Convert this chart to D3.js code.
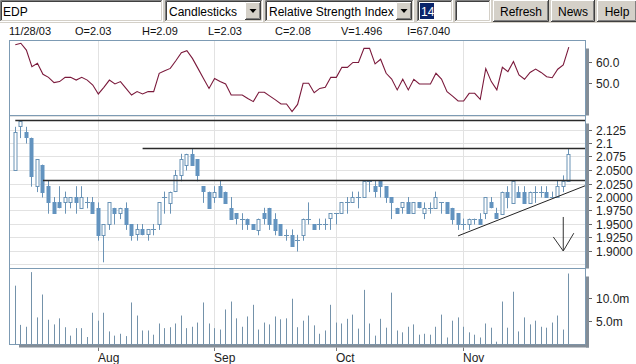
<!DOCTYPE html>
<html><head><meta charset="utf-8">
<script src="https://cdn.jsdelivr.net/npm/d3@7/dist/d3.min.js"></script>
<style>
body{margin:0;background:#fff;overflow:hidden}
svg{display:block}
text{font-family:"Liberation Sans",Arial,sans-serif}
</style>
</head><body>
<svg id="chart" width="636" height="364"></svg>
<script>
// ---------------- DATA ----------------
const symbol = "EDP";
const chartType = "Candlesticks";
const indicator = "Relative Strength Index";
const period = "14";
const buttons = ["Refresh","News","Help"];
const infoLabels = ["11/28/03","O=2.03","H=2.09","L=2.03","C=2.08","V=1.496","I=67.040"];

const startDate = "2003-07-11", endDate = "2003-11-28";

const opens  = [2.05,2.13,2.12,2.11,2.02,2.06,2.02,1.99,1.99,1.99,1.99,2.00,1.98,1.99,1.99,1.98,1.93,1.95,1.98,1.97,
                1.98,1.95,1.93,1.94,1.93,1.94,1.95,2.00,1.99,2.01,2.04,2.06,2.08,2.07,2.02,2.01,2.00,2.02,2.01,1.98,
                1.97,1.96,1.96,1.95,1.94,1.97,1.98,1.96,1.95,1.93,1.93,1.92,1.93,1.96,1.95,1.95,1.95,1.96,1.97,1.97,
                1.99,1.99,2.00,2.00,2.03,2.02,2.03,2.02,2.00,1.98,1.98,1.99,1.97,1.99,1.97,1.98,1.98,1.99,1.99,1.98,
                1.97,1.95,1.95,1.96,1.96,1.97,1.99,1.97,1.97,2.01,1.99,2.01,2.01,1.99,2.01,2.01,2.01,2.00,2.00,2.02,2.03];
const highs  = [2.13,2.14,2.13,2.11,2.07,2.06,2.03,2.00,2.02,2.01,2.00,2.02,2.02,2.00,2.00,1.99,1.95,1.99,1.98,1.98,
                1.99,1.95,1.95,1.95,1.94,1.95,1.99,2.01,2.01,2.05,2.08,2.08,2.09,2.07,2.02,2.01,2.02,2.03,2.01,2.00,
                1.97,1.97,1.96,1.95,1.96,1.98,1.98,1.97,1.95,1.94,1.94,1.93,1.96,1.99,1.95,1.96,1.96,1.97,1.97,1.99,
                2.00,2.01,2.01,2.03,2.03,2.03,2.03,2.02,2.00,1.98,1.99,2.00,1.99,1.99,1.99,1.99,2.01,1.99,1.99,1.98,
                1.97,1.96,1.96,1.96,1.97,2.00,2.00,1.98,2.01,2.02,2.03,2.02,2.02,2.01,2.02,2.02,2.02,2.01,2.03,2.04,2.09];
const lows   = [2.05,2.11,2.10,2.02,2.01,2.00,1.97,1.97,1.98,1.97,1.98,1.97,1.98,1.98,1.97,1.92,1.88,1.94,1.95,1.96,
                1.94,1.92,1.92,1.93,1.92,1.93,1.94,1.97,1.97,2.01,2.03,2.05,2.06,2.03,1.99,1.98,1.99,2.00,1.99,1.96,
                1.95,1.94,1.94,1.94,1.93,1.95,1.94,1.93,1.93,1.92,1.91,1.90,1.92,1.95,1.94,1.94,1.94,1.94,1.95,1.97,
                1.97,1.99,1.98,2.00,2.01,2.00,2.00,1.99,1.96,1.97,1.97,1.97,1.97,1.98,1.96,1.97,1.98,1.97,1.97,1.95,
                1.94,1.94,1.94,1.95,1.95,1.96,1.98,1.96,1.97,1.98,1.99,2.00,1.99,1.99,1.99,2.00,2.00,2.00,2.00,2.01,2.03];
const closes = [2.12,2.14,2.11,2.04,2.07,2.01,1.99,1.97,1.98,2.00,2.00,1.99,2.00,1.99,1.97,1.93,1.95,1.99,1.97,1.98,
                1.95,1.93,1.94,1.93,1.94,1.94,1.99,2.00,2.01,2.04,2.07,2.08,2.06,2.04,2.01,1.98,2.01,2.00,1.99,1.96,
                1.96,1.96,1.95,1.94,1.96,1.96,1.95,1.94,1.93,1.93,1.91,1.92,1.96,1.96,1.94,1.95,1.95,1.97,1.97,1.99,
                1.99,2.00,2.00,2.03,2.03,2.01,2.02,2.00,1.99,1.97,1.99,1.97,1.99,1.98,1.98,1.98,2.00,1.99,1.97,1.96,
                1.95,1.95,1.96,1.96,1.95,2.00,1.98,1.96,2.01,2.00,2.03,2.00,1.99,2.01,2.01,2.01,2.00,2.00,2.02,2.03,2.08];
const rsi    = [68.1,68.8,65.6,57.8,59.4,54.2,52.8,50.3,50.8,52.8,52.8,51.5,52.8,51.5,49.2,45.0,48.1,51.5,49.7,50.8,
                47.6,44.5,46.1,45.0,46.1,46.1,54.7,55.9,57.0,60.6,64.4,65.3,61.7,57.0,52.3,47.6,52.3,50.8,49.7,44.5,
                44.5,44.5,42.9,41.4,45.8,45.8,44.0,42.2,40.3,40.3,36.7,40.1,50.0,50.0,45.6,47.6,48.1,52.8,52.8,57.5,
                57.5,59.8,59.8,66.4,66.4,59.1,61.3,54.7,52.0,46.9,51.9,46.9,51.9,49.7,49.7,49.7,54.7,52.0,46.1,44.0,
                41.7,41.7,45.3,45.3,42.5,56.9,50.8,46.9,57.5,55.5,60.2,53.9,51.9,55.1,56.7,55.1,53.1,52.6,56.6,58.6,67.0];
const volume = [12.6,4.2,3.8,15.5,5.8,10.7,5.3,4.3,5.6,3.7,1.9,3.5,3.5,1.6,6.8,5.1,6.8,2.8,1.9,2.3,
                1.8,9.0,6.2,3.0,3.0,2.1,4.5,3.5,3.7,4.5,6.2,3.5,3.8,4.7,9.0,4.5,3.5,3.2,7.5,9.2,
                5.6,3.8,6.0,8.5,3.2,4.7,4.3,6.0,5.4,5.6,9.8,3.7,5.1,6.2,4.1,2.3,3.0,8.5,4.7,4.5,
                5.5,6.4,3.4,11.7,4.5,1.9,5.5,3.6,11.1,3.0,2.6,3.8,4.3,2.1,2.3,2.1,3.8,6.4,1.5,5.1,
                5.8,3.8,2.6,2.1,1.5,4.5,3.6,0.6,9.2,3.6,11.3,2.8,5.8,4.3,5.1,3.8,3.6,4.7,6.2,3.2,15.2];

const priceTicks = [2.125,2.1,2.075,2.05,2.025,2.0,1.975,1.95,1.925,1.9];
const priceTickLabels = ["2.125","2.1","2.075","2.0500","2.0250","2.0000","1.9750","1.9500","1.9250","1.9000"];
const priceGrid = [2.15,2.125,2.1,2.075,2.05,2.025,2.0,1.975,1.95,1.925,1.9,1.875];
const rsiTicks = [60,50], rsiTickLabels = ["60.0","50.0"];
const volTicks = [10,5], volTickLabels = ["10.0m","5.0m"];
const monthNames = ["Jan","Feb","Mar","Apr","May","Jun","Jul","Aug","Sep","Oct","Nov","Dec"];

// drawn annotations (index, price)
const levelLines = [{from:0,price:2.142},{from:23,price:2.090},{from:5,price:2.031}];
const trendLine = [[80,1.928],[103,2.021]];
const arrowShaft = [[99,1.963],[99,1.900]];
const arrowHead = [[97.2,1.926],[99,1.900],[100.9,1.933]];

// trading days (weekdays) as categories
const dates = [];
for (let d = new Date(startDate+"T00:00:00Z"); d <= new Date(endDate+"T00:00:00Z"); d = new Date(d.getTime()+864e5)) {
  const wd = d.getUTCDay(); if (wd>0 && wd<6) dates.push(new Date(d));
}

// ---------------- LAYOUT ----------------
const L = 9.5, R = 585.5;
const P = {
  rsi:   {top:40.5,  bottom:115.5},
  price: {top:115.5, bottom:268.5},
  vol:   {top:268.5, bottom:344.5}
};
const candleCol = "#6393bf", candleStroke = "#6a93b6", volCol = "#7492aa";
const borderCol = "#7d9bb4", shadowCol = "#838d97", gridCol = "#e2e2e2";

const svg = d3.select("#chart");
const x = d3.scaleLinear().domain([0, dates.length-1]).range([15.3, 568.8]);
const yP = d3.scaleLinear().domain([1.9, 2.125]).range([251, 129.5]);
const yR = d3.scaleLinear().domain([50, 60]).range([83.3, 62]);
const yV = d3.scaleLinear().domain([0, 10]).range([344.5, 297.8]);
const px = i => Math.floor(x(i)) + 0.5;

// ---------------- TOOLBAR ----------------
const tb = svg.append("g");
tb.append("rect").attr("x",0).attr("y",0).attr("width",636).attr("height",23).attr("fill","#d4d0c8");
function sunken(x0,y0,w,h){
  tb.append("rect").attr("x",x0).attr("y",y0).attr("width",w).attr("height",h).attr("fill","#fff");
  tb.append("path").attr("d",`M${x0+.5},${y0+h}V${y0+.5}H${x0+w}`).attr("stroke","#808080").attr("fill","none");
  tb.append("path").attr("d",`M${x0+1.5},${y0+h-1}V${y0+1.5}H${x0+w-1}`).attr("stroke","#404040").attr("fill","none");
  tb.append("path").attr("d",`M${x0},${y0+h-.5}H${x0+w-.5}V${y0}`).attr("stroke","#fff").attr("fill","none");
  tb.append("path").attr("d",`M${x0+1},${y0+h-1.5}H${x0+w-1.5}V${y0+1}`).attr("stroke","#d4d0c8").attr("fill","none");
}
function raised(x0,y0,w,h){
  tb.append("rect").attr("x",x0).attr("y",y0).attr("width",w).attr("height",h).attr("fill","#d4d0c8");
  tb.append("path").attr("d",`M${x0+.5},${y0+h-1}V${y0+.5}H${x0+w-1}`).attr("stroke","#fff").attr("fill","none");
  tb.append("path").attr("d",`M${x0},${y0+h-.5}H${x0+w-.5}V${y0}`).attr("stroke","#404040").attr("fill","none");
  tb.append("path").attr("d",`M${x0+1},${y0+h-1.5}H${x0+w-1.5}V${y0+1}`).attr("stroke","#808080").attr("fill","none");
}
function label(t,xx,yy,opt={}){
  return tb.append("text").attr("x",xx).attr("y",yy).attr("font-size",opt.size||12)
    .attr("fill",opt.fill||"#000").attr("text-anchor",opt.anchor||"start").text(t);
}
sunken(0,0,163,22); label(symbol,3,15.5);
function select(x0,w,t){
  sunken(x0,0,w,22);
  label(t,x0+4,15.5);
  raised(x0+w-18,2,16,18);
  const cx = x0+w-10;
  tb.append("path").attr("d",`M${cx-3.5},9H${cx+3.5}L${cx},13Z`).attr("fill","#000");
}
select(165,98,chartType);
select(265,149,indicator);
sunken(417,0,36,22);
tb.append("rect").attr("x",420).attr("y",3).attr("width",14).attr("height",16).attr("fill","#0a246a");
label(period,421,15.5,{fill:"#fff"});
sunken(455,0,36,22);
const btnX = [493,551,597], btnW = [56,44,40];
buttons.forEach((b,i)=>{ raised(btnX[i],0,btnW[i],22); label(b,btnX[i]+btnW[i]/2,15.5,{anchor:"middle"}); });

// info line
const infoX = [9,75,142,208,275,341,407];
infoLabels.forEach((t,i)=> svg.append("text").attr("x",infoX[i]).attr("y",35).attr("font-size",11)
  .attr("fill","#111").text(t));

// ---------------- PANELS ----------------
const defs = svg.append("defs");
Object.entries(P).forEach(([k,p])=>{
  defs.append("clipPath").attr("id","clip-"+k).append("rect")
    .attr("x",L).attr("y",p.top).attr("width",R-L).attr("height",p.bottom-p.top);
});

// month gridlines
const monthIdx = [];
dates.forEach((d,i)=>{ if(i>0 && d.getUTCMonth()!==dates[i-1].getUTCMonth()) monthIdx.push(i); });
svg.append("g").selectAll("line").data(monthIdx).join("line")
  .attr("x1",d=>px(d)).attr("x2",d=>px(d)).attr("y1",P.rsi.top).attr("y2",P.vol.bottom)
  .attr("stroke",gridCol);

// price horizontal grid
svg.append("g").attr("clip-path","url(#clip-price)").selectAll("line").data(priceGrid).join("line")
  .attr("x1",L).attr("x2",R).attr("y1",d=>Math.round(yP(d))+.5).attr("y2",d=>Math.round(yP(d))+.5)
  .attr("stroke",gridCol);

// RSI line
svg.append("path").attr("clip-path","url(#clip-rsi)").datum(rsi)
  .attr("d", d3.line().x((d,i)=>x(i)).y(d=>yR(d)))
  .attr("fill","none").attr("stroke","#7b1a3c").attr("stroke-width",1.1);

// candles
const cg = svg.append("g").attr("clip-path","url(#clip-price)");
const idx = d3.range(dates.length);
cg.selectAll("line.wick").data(idx).join("line").attr("class","wick")
  .attr("x1",i=>px(i)).attr("x2",i=>px(i))
  .attr("y1",i=>yP(highs[i])).attr("y2",i=>yP(lows[i])+0.5)
  .attr("stroke",candleStroke);
cg.selectAll("rect.body").data(idx.filter(i=>opens[i]!==closes[i])).join("rect").attr("class","body")
  .attr("x",i=>px(i)-1.5).attr("width",3)
  .attr("y",i=>Math.round(yP(Math.max(opens[i],closes[i])))+.5)
  .attr("height",i=>Math.max(1,Math.round(Math.abs(yP(opens[i])-yP(closes[i])))))
  .attr("fill",i=>closes[i]>opens[i]?"#fff":candleCol)
  .attr("stroke",i=>closes[i]>opens[i]?candleStroke:candleCol);
cg.selectAll("line.doji").data(idx.filter(i=>opens[i]===closes[i])).join("line").attr("class","doji")
  .attr("x1",i=>px(i)-2.5).attr("x2",i=>px(i)+2.5)
  .attr("y1",i=>Math.round(yP(opens[i]))+.5).attr("y2",i=>Math.round(yP(opens[i]))+.5)
  .attr("stroke",candleStroke);

// annotations
const ag = svg.append("g").attr("clip-path","url(#clip-price)");
ag.selectAll("line.lvl").data(levelLines).join("line").attr("class","lvl")
  .attr("x1",d=>x(d.from)).attr("x2",R).attr("y1",d=>Math.round(yP(d.price))+.5).attr("y2",d=>Math.round(yP(d.price))+.5)
  .attr("stroke","#2a2a2a").attr("stroke-width",1.3);
const ln = d3.line().x(d=>x(d[0])).y(d=>yP(d[1]));
ag.append("path").attr("d",ln(trendLine)).attr("stroke","#222").attr("fill","none");
ag.append("path").attr("d",ln(arrowShaft)).attr("stroke","#333").attr("fill","none");
ag.append("path").attr("d",ln(arrowHead)).attr("stroke","#333").attr("fill","none");

// volume
svg.append("g").attr("clip-path","url(#clip-vol)").selectAll("line").data(idx).join("line")
  .attr("x1",i=>px(i)).attr("x2",i=>px(i)).attr("y1",yV(0)).attr("y2",i=>yV(volume[i]))
  .attr("stroke",volCol);

// borders + shadows
Object.values(P).forEach(p=>{
  svg.append("rect").attr("x",L).attr("y",p.top).attr("width",R-L).attr("height",p.bottom-p.top)
    .attr("fill","none").attr("stroke",borderCol);
  svg.append("rect").attr("x",R+0.5).attr("y",p.top+8).attr("width",3).attr("height",p.bottom-p.top-8+(p===P.vol?3:0))
    .attr("fill",shadowCol);
});
svg.append("rect").attr("x",L+9.5).attr("y",P.vol.bottom).attr("width",R-L-6).attr("height",3).attr("fill",shadowCol);

// right axes
function rightAxis(scale,ticks,labels,fmtY){
  const g = svg.append("g");
  ticks.forEach((t,i)=>{
    const yy = Math.round(scale(t))+.5;
    g.append("line").attr("x1",589).attr("x2",592).attr("y1",yy).attr("y2",yy).attr("stroke","#666");
    g.append("text").attr("x",596).attr("y",yy).attr("dy","0.36em").attr("font-size",12).attr("fill","#222").text(labels[i]);
  });
}
rightAxis(yR,rsiTicks,rsiTickLabels);
rightAxis(yP,priceTicks,priceTickLabels);
rightAxis(yV,volTicks,volTickLabels);

// x axis
const xg = svg.append("g");
monthIdx.forEach(i=>{
  xg.append("line").attr("x1",px(i)).attr("x2",px(i)).attr("y1",347.5).attr("y2",351).attr("stroke","#777");
  xg.append("text").attr("x",px(i)-0.5).attr("y",362).attr("font-size",12).attr("fill","#222")
    .text(monthNames[dates[i].getUTCMonth()]);
});
</script>
</body></html>
